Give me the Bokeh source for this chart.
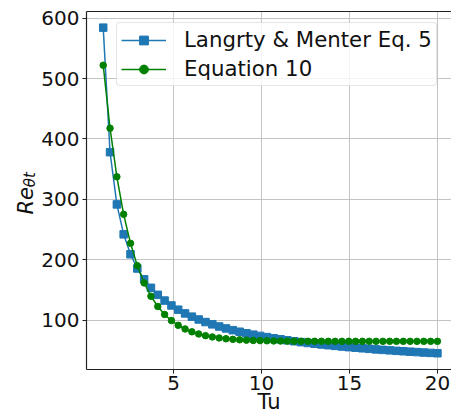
from bokeh.plotting import figure
from bokeh.models import Range1d, FixedTicker, Legend, LegendItem, LinearAxis
from bokeh.layouts import row
from bokeh.core.properties import value
from bokeh.embed import file_html
from bokeh.resources import INLINE

# Tu values (50 points from 1 to 20)
tu = [1.0, 1.388, 1.776, 2.163, 2.551, 2.939, 3.327, 3.714, 4.102, 4.490,
      4.878, 5.265, 5.653, 6.041, 6.429, 6.816, 7.204, 7.592, 7.980, 8.367,
      8.755, 9.143, 9.531, 9.918, 10.306, 10.694, 11.082, 11.469, 11.857, 12.245,
      12.633, 13.020, 13.408, 13.796, 14.184, 14.571, 14.959, 15.347, 15.735, 16.122,
      16.510, 16.898, 17.286, 17.673, 18.061, 18.449, 18.837, 19.224, 19.612, 20.0]

# Langtry & Menter Eq. 5
re_lm = [584.3, 378.1, 291.7, 242.1, 209.2, 185.6, 167.7, 153.6, 142.0, 132.5,
         124.4, 117.4, 111.3, 105.9, 101.2, 96.9, 93.1, 89.6, 86.4, 83.5,
         80.9, 78.4, 76.1, 74.0, 72.0, 70.1, 68.4, 66.7, 65.2, 63.7,
         62.3, 61.0, 59.8, 58.6, 57.5, 56.4, 55.4, 54.4, 53.5, 52.6,
         51.7, 50.9, 50.1, 49.3, 48.6, 47.9, 47.2, 46.5, 45.9, 45.3]

# Equation 10
re_eq10 = [522.0, 417.8, 337.4, 275.3, 227.3, 190.3, 161.7, 139.7, 122.7, 109.5,
           99.4, 91.5, 85.5, 80.8, 77.2, 74.4, 72.3, 70.6, 69.3, 68.3,
           67.6, 67.0, 66.5, 66.2, 65.9, 65.7, 65.5, 65.4, 65.3, 65.2,
           65.1, 65.1, 65.1, 65.0, 65.0, 65.0, 65.0, 65.0, 65.0, 65.0,
           65.0, 65.0, 65.0, 65.0, 65.0, 65.0, 65.0, 65.0, 65.0, 65.0]

x_ticks = [5, 10, 15, 20]
y_ticks = [100, 200, 300, 400, 500, 600]
series_labels = ["Langrty & Menter Eq. 5", "Equation 10"]
x_title = "Tu"
y_title_main = "Re"
y_title_sub = "θt"

FONT = "DejaVu Sans"
BLUE = "#1f77b4"
GREEN = "#008000"
INK = "#111111"
SPINE = "#222222"

# ---- main plot ----
p = figure(width=413, height=416, output_backend="svg", toolbar_location=None,
           x_range=Range1d(0.05, 20.8), y_range=Range1d(18.4, 611),
           min_border_left=45, min_border_right=0, min_border_top=11, min_border_bottom=47)

p.outline_line_color = None
p.background_fill_color = "white"
p.border_fill_color = "white"

for ax in (p.xaxis, p.yaxis):
    ax.axis_line_color = SPINE
    ax.axis_line_width = 1.2
    ax.major_tick_line_color = SPINE
    ax.major_tick_out = 4
    ax.major_tick_in = 0
    ax.minor_tick_line_color = None
    ax.major_label_text_font = FONT
    ax.major_label_text_font_size = "20px"
    ax.major_label_text_color = INK

p.xaxis.major_label_standoff = 2
p.yaxis.major_label_standoff = 3
p.xaxis.ticker = FixedTicker(ticks=x_ticks)
p.yaxis.ticker = FixedTicker(ticks=y_ticks)
p.xaxis.axis_label = x_title
p.xaxis.axis_label_text_font = FONT
p.xaxis.axis_label_text_font_size = "21px"
p.xaxis.axis_label_text_font_style = "normal"
p.xaxis.axis_label_text_color = INK
p.xaxis.axis_label_standoff = -3

# top spine
top = LinearAxis(axis_line_color=SPINE, axis_line_width=1.2, major_tick_line_color=None,
                 minor_tick_line_color=None, major_label_text_font_size="0px",
                 major_label_standoff=0, major_tick_out=0, major_tick_in=0,
                 ticker=FixedTicker(ticks=[]))
p.add_layout(top, "above")

p.grid.grid_line_color = "#c4c4c4"
p.grid.grid_line_width = 1

r1l = p.line(tu, re_lm, color=BLUE, line_width=1.5)
r1m = p.scatter(tu, re_lm, marker="square", size=7.5, color=BLUE)
r2l = p.line(tu, re_eq10, color=GREEN, line_width=1.5)
r2m = p.scatter(tu, re_eq10, marker="circle", size=6.5, color=GREEN)

legend = Legend(items=[LegendItem(label=series_labels[0], renderers=[r1l, r1m]),
                       LegendItem(label=series_labels[1], renderers=[r2l, r2m])],
                location=(30, 283))
legend.label_text_font = FONT
legend.label_text_font_size = "21.3px"
legend.label_text_color = INK
legend.glyph_width = 45
legend.glyph_height = 22
legend.label_height = 22
legend.label_standoff = 18
legend.spacing = 4
legend.padding = 4
legend.margin = 0
legend.border_line_color = "#cccccc"
legend.border_line_width = 1
legend.border_radius = 4
legend.background_fill_alpha = 0.8
p.add_layout(legend, "center")

# ---- left strip holding the y-axis title Re_{θt}; shares the main y scale ----
s = figure(width=38, height=416, output_backend="svg", toolbar_location=None,
           x_range=Range1d(0, 38), y_range=p.y_range,
           min_border=0, x_axis_location=None, y_axis_location=None)
s.outline_line_color = None
s.grid.visible = False
s.background_fill_color = "white"
s.border_fill_color = "white"
s.text(x=[25.5], y=[275], text=[y_title_main], angle=1.5708,
       text_font=value(FONT), text_font_size="21px", text_font_style="italic",
       text_align="left", text_baseline="alphabetic", text_color=INK)
s.text(x=[29.5], y=[320], text=[y_title_sub], angle=1.5708,
       text_font=value(FONT), text_font_size="15px", text_font_style="italic",
       text_align="left", text_baseline="alphabetic", text_color=INK)

layout = row(s, p, spacing=0)
open("out.html", "w").write(file_html(layout, INLINE))
